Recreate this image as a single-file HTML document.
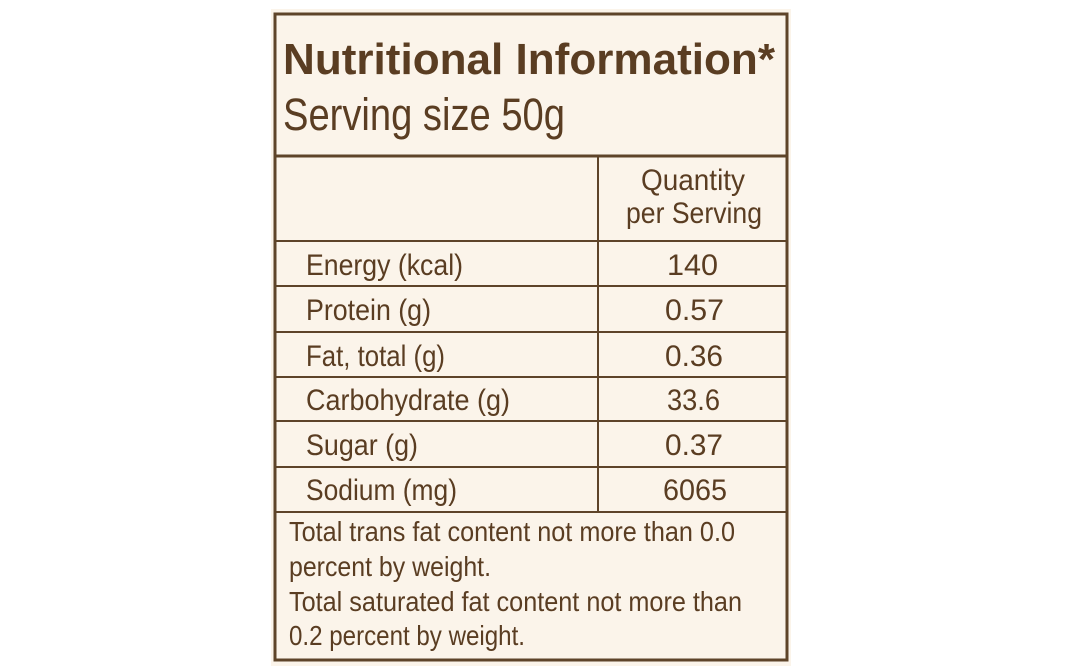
<!DOCTYPE html>
<html><head><style>html,body{margin:0;padding:0;background:#fff}svg{display:block}</style></head>
<body>
<svg width="1068" height="671" viewBox="0 0 1068 671" xmlns="http://www.w3.org/2000/svg">
<rect x="271" y="9" width="520" height="657" fill="#fbf4ea"/>
<g stroke="#5e4429" fill="none">
<rect x="275" y="14" width="512" height="646" stroke-width="3"/>
<line x1="275" y1="156" x2="787" y2="156" stroke-width="3"/>
<line x1="598" y1="156" x2="598" y2="512" stroke-width="2"/>
<g stroke-width="2">
<line x1="275" y1="241" x2="787" y2="241"/>
<line x1="275" y1="286" x2="787" y2="286"/>
<line x1="275" y1="332" x2="787" y2="332"/>
<line x1="275" y1="377" x2="787" y2="377"/>
<line x1="275" y1="421" x2="787" y2="421"/>
<line x1="275" y1="467" x2="787" y2="467"/>
<line x1="275" y1="512" x2="787" y2="512"/>
</g></g>
<g fill="#5a3d22" font-family="Liberation Sans, sans-serif">
<text x="283" y="74" font-size="44" font-weight="bold" textLength="492" lengthAdjust="spacingAndGlyphs">Nutritional Information*</text>
<text x="283" y="130" font-size="45" textLength="282" lengthAdjust="spacingAndGlyphs">Serving size 50g</text>
<text x="641" y="190" font-size="30" textLength="104" lengthAdjust="spacingAndGlyphs">Quantity</text>
<text x="626" y="223" font-size="30" textLength="136" lengthAdjust="spacingAndGlyphs">per Serving</text>
<g font-size="30" lengthAdjust="spacingAndGlyphs">
<text x="306" y="275" textLength="157" lengthAdjust="spacingAndGlyphs">Energy (kcal)</text>
<text x="306" y="320" textLength="125" lengthAdjust="spacingAndGlyphs">Protein (g)</text>
<text x="306" y="366" textLength="139" lengthAdjust="spacingAndGlyphs">Fat, total (g)</text>
<text x="306" y="410" textLength="204" lengthAdjust="spacingAndGlyphs">Carbohydrate (g)</text>
<text x="306" y="455" textLength="112" lengthAdjust="spacingAndGlyphs">Sugar (g)</text>
<text x="306" y="500" textLength="151" lengthAdjust="spacingAndGlyphs">Sodium (mg)</text>
<text x="667" y="275" textLength="51" lengthAdjust="spacingAndGlyphs">140</text>
<text x="665" y="320" textLength="59" lengthAdjust="spacingAndGlyphs">0.57</text>
<text x="665" y="366" textLength="58" lengthAdjust="spacingAndGlyphs">0.36</text>
<text x="667" y="410" textLength="53" lengthAdjust="spacingAndGlyphs">33.6</text>
<text x="665" y="455" textLength="58" lengthAdjust="spacingAndGlyphs">0.37</text>
<text x="663" y="500" textLength="64" lengthAdjust="spacingAndGlyphs">6065</text>
</g>
<g font-size="28">
<text x="289" y="541" textLength="446" lengthAdjust="spacingAndGlyphs">Total trans fat content not more than 0.0</text>
<text x="289" y="576" textLength="202" lengthAdjust="spacingAndGlyphs">percent by weight.</text>
<text x="289" y="611" textLength="453" lengthAdjust="spacingAndGlyphs">Total saturated fat content not more than</text>
<text x="289" y="645" textLength="236" lengthAdjust="spacingAndGlyphs">0.2 percent by weight.</text>
</g>
</g>
</svg>
</body></html>
